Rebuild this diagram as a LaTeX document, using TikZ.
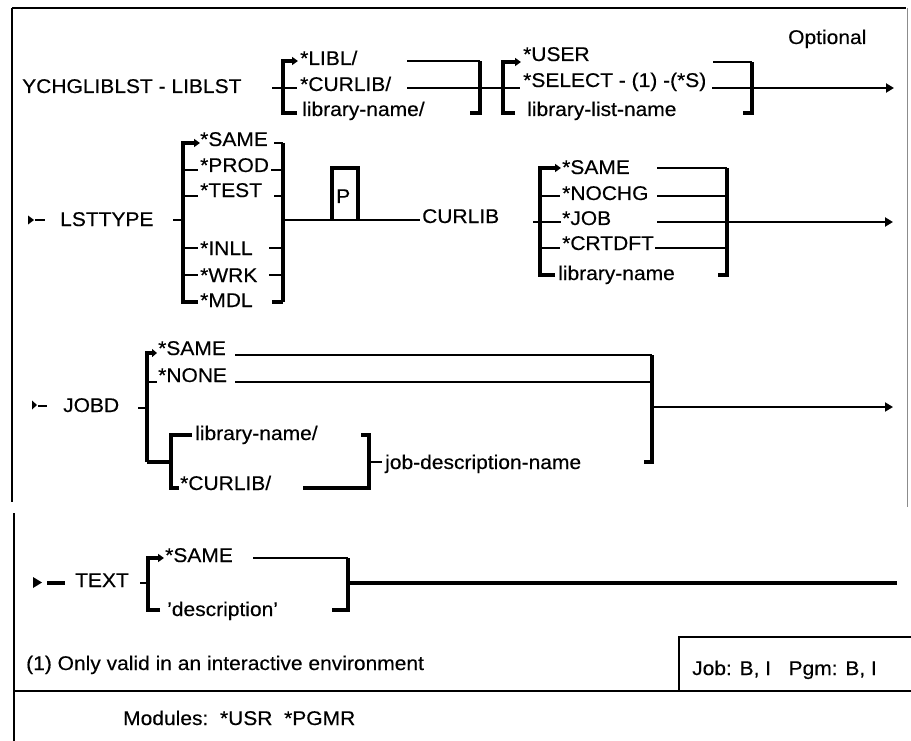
\documentclass[tikz,border=0pt]{standalone}
\usepackage{fontspec}
\setmainfont{Liberation Sans}[FakeStretch=1.06,FakeBold=0.35]
\usetikzlibrary{arrows.meta}
\newcommand{\dfont}{\fontsize{19.8}{22}\selectfont}
\begin{document}
\begin{tikzpicture}[x=1pt,y=-1pt,
  lbl/.style={anchor=base west, inner sep=0pt, font=\dfont, text=black},
  ln/.style={line width=2.5pt},
  br/.style={line width=3.2pt, line join=miter},
  thinln/.style={line width=1.8pt},
  arr/.style={-{Triangle[length=8pt,width=9pt]}},
  sarr/.style={-{Triangle[length=6pt,width=8pt]}},
  border/.style={line width=2.6pt}]
\useasboundingbox (0,0) rectangle (911,741);
\fill[white] (0,0) rectangle (911,741);

% ---- frame ----
\draw[border] (12,8) -- (906,8);
\draw[border] (12,8) -- (12,502);
\draw[line width=1pt, black!45] (907,8) -- (907,507);
\draw[border] (14,513) -- (14,741);
\draw[border] (14,691) -- (911,691);
\draw[border] (679,691) -- (679,637) -- (911,637);

% ---- row 1 ----
\node[lbl] (cmd) at (22,93) {YCHGLIBLST - LIBLST};
\node[lbl] (libl) at (300,65) {*LIBL/};
\node[lbl] (curlib1) at (300,91) {*CURLIB/};
\node[lbl] (libname1) at (302,116) {library-name/};
\node[lbl] (user) at (523,61) {*USER};
\node[lbl] (select) at (523,87) {*SELECT - (1) -(*S)};
\node[lbl] (liblist) at (527,116) {library-list-name};
\node[lbl] (opt) at (788,44) {Optional};

\draw[ln] (272,88) -- (297,88);
\draw[ln] (407,88) -- (520,88);
\draw[br,sarr] (297,113) -- (283,113) -- (283,61) -- (298,61);
\draw[ln] (407,61) -- (480,61);
\draw[br] (470,113) -- (480,113) -- (480,61);
\draw[br,sarr] (515,113) -- (503,113) -- (503,62) -- (521,62);
\draw[ln] (713,62) -- (752,62);
\draw[br] (743,113) -- (752,113) -- (752,62);
\draw[ln,arr] (712,88) -- (894,88);

% ---- row 2 : LSTTYPE ----
\fill (28,215.5) -- (34,220) -- (28,224.5) -- cycle;
\draw[ln] (35,220) -- (45,220);
\node[lbl] (lsttype) at (60,226) {LSTTYPE};
\draw[ln] (173,220) -- (183,220);
\draw[br,sarr] (198,302) -- (183,302) -- (183,143) -- (200,143);
\foreach \yy in {170,196,248,275} \draw[ln] (183,\yy) -- (198,\yy);
\node[lbl] (same1) at (200,146) {*SAME};
\node[lbl] (prod) at (200,172) {*PROD};
\node[lbl] (test) at (200,197) {*TEST};
\node[lbl] (inll) at (200,255) {*INLL};
\node[lbl] (wrk) at (200,282) {*WRK};
\node[lbl] (mdl) at (200,307) {*MDL};
\draw[br] (283,143) -- (283,302);
\draw[ln] (274,143) -- (283,143);
\draw[ln] (271,170) -- (283,170);
\draw[ln] (274,196) -- (283,196);
\draw[ln] (269,248) -- (283,248);
\draw[ln] (269,275) -- (283,275);
\draw[br] (272,302) -- (283,302);
\draw[ln] (283,220) -- (420,220);
\draw[br] (332,220) -- (332,168) -- (358,168) -- (358,220);
\node[lbl] (p) at (336,203) {P};
\node[lbl] (curlibkw) at (422,223) {CURLIB};

% bracket 3
\draw[ln] (533,222) -- (561,222);
\draw[br,sarr] (555,275) -- (540,275) -- (540,168) -- (561,168);
\draw[ln] (540,196) -- (560,196);
\draw[ln] (540,248) -- (560,248);
\node[lbl] (same2) at (562,174) {*SAME};
\node[lbl] (nochg) at (562,200) {*NOCHG};
\node[lbl] (job) at (562,225) {*JOB};
\node[lbl] (crtdft) at (562,250) {*CRTDFT};
\node[lbl] (libname2) at (558,280) {library-name};
\draw[ln] (657,168) -- (727,168);
\draw[ln] (657,196) -- (727,196);
\draw[ln] (655,248) -- (727,248);
\draw[br] (727,168) -- (727,275) -- (718,275);
\draw[ln,arr] (657,222) -- (893,222);

% ---- row 3 : JOBD ----
\fill (32,400.5) -- (37,405) -- (32,409.5) -- cycle;
\draw[ln] (38,406) -- (47,406);
\node[lbl] (jobd) at (63,412) {JOBD};
\draw[ln] (138,408) -- (147,408);
\draw[br,-{Triangle[length=5pt,width=8pt]}] (147,462) -- (147,353) -- (157,353);
\draw[ln] (147,382) -- (157,382);
\node[lbl] (same3) at (158,355) {*SAME};
\node[lbl] (none) at (158,382) {*NONE};
\draw[thinln] (235,355) -- (652,355);
\draw[ln] (235,382) -- (652,382);
\draw[br] (652,355) -- (652,462) -- (644,462);
\draw[thinln,arr] (652,407) -- (893,407);
\draw[br] (147,462) -- (171,462);
\draw[br] (192,435) -- (171,435) -- (171,488) -- (179,488);
\node[lbl] (libname3) at (195,440) {library-name/};
\node[lbl] (curlib3) at (180,490) {*CURLIB/};
\draw[br] (303,488) -- (369,488) -- (369,435) -- (361,435);
\draw[ln] (369,462) -- (382,462);
\node[lbl] (jobdesc) at (385,469) {job-description-name};

% ---- row 4 : TEXT ----
\fill (33,577) -- (42,582.5) -- (33,588) -- cycle;
\draw[line width=3.2pt] (47,583) -- (65,583);
\node[lbl] (textkw) at (75,587) {TEXT};
\draw[ln] (140,583) -- (148,583);
\draw[br,sarr] (160,610) -- (148,610) -- (148,558) -- (164,558);
\node[lbl] (same4) at (165,562) {*SAME};
\node[lbl] (descr) at (167,616) {'description'};
\draw[ln] (253,558) -- (348,558);
\draw[br] (348,558) -- (348,610) -- (332,610);
\draw[line width=3.4pt] (348,583) -- (897,583);

% ---- footer ----
\node[lbl] (note) at (26,670) {(1) Only valid in an interactive environment};
\node[lbl] (jobpgm) at (692,675) {Job: B, I\ \ \ Pgm: B, I};
\node[lbl] (modules) at (123,725) {Modules:\ \ *USR\ \ *PGMR};
\end{tikzpicture}
\end{document}
